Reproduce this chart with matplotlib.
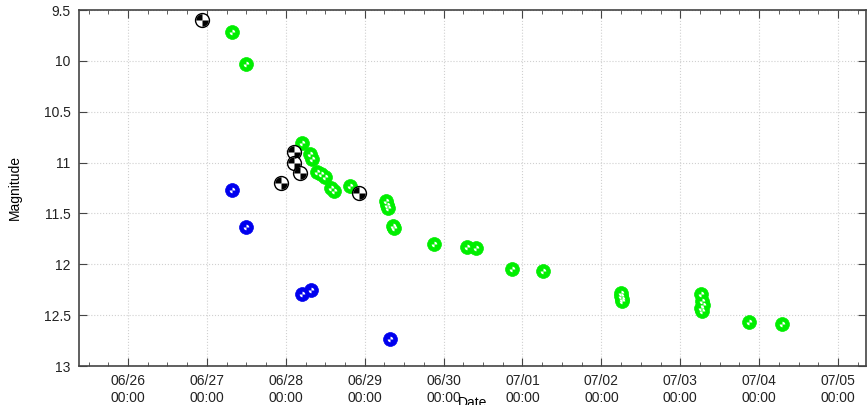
import numpy as np
import pandas as pd
import matplotlib
matplotlib.use("Agg")
import matplotlib.pyplot as plt
import matplotlib.dates as mdates
from matplotlib.path import Path


# =========================
# DATA
# =========================

black_times = ["2020-06-26 22:30", "2020-06-27 22:32", "2020-06-28 02:30",
               "2020-06-28 02:35", "2020-06-28 04:20", "2020-06-28 22:16"]
black_mags = [9.60, 11.20, 10.90, 11.00, 11.10, 11.30]

blue_times = ["2020-06-27 07:40", "2020-06-27 12:00", "2020-06-28 04:55",
              "2020-06-28 07:40", "2020-06-29 07:40"]
blue_mags = [11.27, 11.63, 12.29, 12.25, 12.73]

green_times = ["2020-06-27 07:40", "2020-06-27 12:00", "2020-06-28 04:55",
               "2020-06-28 07:22", "2020-06-28 07:58", "2020-06-28 09:29",
               "2020-06-28 10:42", "2020-06-28 11:55", "2020-06-28 13:45",
               "2020-06-28 14:40", "2020-06-28 19:32", "2020-06-29 06:28",
               "2020-06-29 06:48", "2020-06-29 07:05", "2020-06-29 08:37",
               "2020-06-29 08:54", "2020-06-29 21:05", "2020-06-30 07:08",
               "2020-06-30 09:52", "2020-06-30 20:48", "2020-07-01 06:14",
               "2020-07-02 05:57", "2020-07-02 05:57", "2020-07-02 06:09",
               "2020-07-02 06:09", "2020-07-03 06:17", "2020-07-03 06:30",
               "2020-07-03 06:50", "2020-07-03 06:17", "2020-07-03 06:35",
               "2020-07-03 20:54", "2020-07-04 06:56"]
green_mags = [9.72, 10.03, 10.81,
              10.92, 10.96, 11.09,
              11.11, 11.14, 11.25,
              11.28, 11.23, 11.38,
              11.42, 11.45, 11.62,
              11.64, 11.80, 11.83,
              11.84, 12.05, 12.07,
              12.28, 12.31, 12.34,
              12.36, 12.29, 12.36,
              12.40, 12.43, 12.46,
              12.57, 12.59]

X_START = "2020-06-25 09:05"
X_END = "2020-07-05 08:30"


# =========================
# PLOT
# =========================

plt.rcParams["font.family"] = ["Liberation Sans", "DejaVu Sans"]

SIZE = 100
q1 = Path.wedge(0, 90)
q2 = Path.wedge(90, 180)
q3 = Path.wedge(180, 270)
q4 = Path.wedge(270, 360)


def ball(ax, times, mags, color, light, dark_pattern=False):
    t = pd.to_datetime(times)
    if dark_pattern:
        ax.scatter(t, mags, s=SIZE, c="white", edgecolors=color, linewidths=1.0, zorder=3)
        ax.scatter(t, mags, s=SIZE * 0.8, marker=q2, c=color, linewidths=0, zorder=4)
        ax.scatter(t, mags, s=SIZE * 0.8, marker=q4, c=color, linewidths=0, zorder=4)
    else:
        ax.scatter(t, mags, s=SIZE, c=color, edgecolors=color, linewidths=0.5, zorder=3)
        ax.scatter(t, mags, s=SIZE * 0.16, marker=q1, c=light, linewidths=0, zorder=4)
        ax.scatter(t, mags, s=SIZE * 0.16, marker=q3, c=light, linewidths=0, zorder=4)


fig = plt.figure(figsize=(8.67, 4.05), dpi=100)
ax = fig.add_axes([79 / 867, 39 / 405, 787 / 867, 356 / 405])

ball(ax, green_times, green_mags, "#00ee00", "white")
ball(ax, black_times, black_mags, "black", "white", dark_pattern=True)
ball(ax, blue_times, blue_mags, "#0000ee", "white")

ax.set_xlim(pd.Timestamp(X_START), pd.Timestamp(X_END))
ax.set_ylim(13, 9.5)

ax.xaxis.set_major_locator(mdates.DayLocator())
ax.xaxis.set_minor_locator(mdates.HourLocator(byhour=[6, 12, 18]))
ax.xaxis.set_major_formatter(mdates.DateFormatter("%m/%d\n%H:%M"))
ax.set_yticks([9.5, 10, 10.5, 11, 11.5, 12, 12.5, 13])
ax.set_yticklabels(["9.5", "10", "10.5", "11", "11.5", "12", "12.5", "13"])

ax.tick_params(axis="both", which="both", direction="in", top=True, right=True,
               labelsize=10, colors="#444444", labelcolor="#222222")
ax.tick_params(axis="both", which="major", length=6, pad=6)
ax.tick_params(axis="both", which="minor", length=3)

ax.grid(True, which="major", linestyle=":", color="#d0d0d0", linewidth=0.8)

for side in ["left", "bottom", "right", "top"]:
    ax.spines[side].set_color("#444444")
    ax.spines[side].set_linewidth(1.2)

ax.set_xlabel("Date", fontsize=10, labelpad=-6)
ax.set_ylabel("Magnitude", fontsize=10, labelpad=16)

fig.savefig("out.png", dpi=100)
